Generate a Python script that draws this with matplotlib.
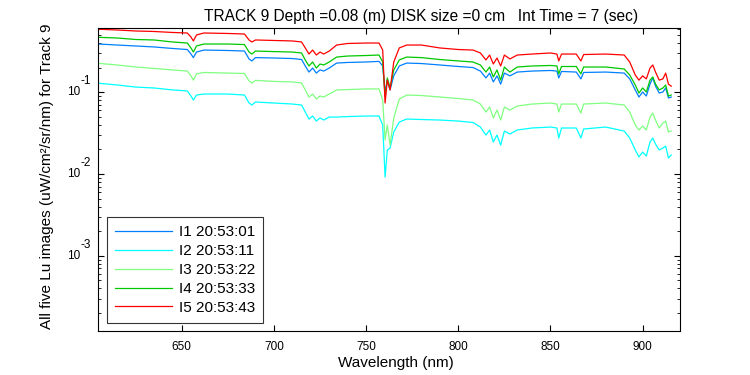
import matplotlib
matplotlib.use("Agg")
import matplotlib.pyplot as plt

plt.rcParams["font.family"] = ["Liberation Sans", "DejaVu Sans"]

# wavelength grid (nm)
wavelength = [605, 615, 625, 635, 645, 653, 655, 656.3, 658, 662, 675, 684, 686.5, 688, 690,
              700, 710, 715, 717, 719, 721, 723, 725, 727, 730, 734, 740, 750, 757, 759,
              760.3, 761.5, 763, 765, 768, 772, 780, 790, 800, 808, 812, 815, 817, 819, 821,
              823, 825, 828, 832, 840, 850, 853.5, 854.5, 856, 864, 866.5, 868, 880, 890,
              893, 896, 898, 900, 902, 904, 905.5, 907, 909, 911, 912.5, 914, 915.5]

i1 = [0.390, 0.379, 0.369, 0.359, 0.344, 0.334, 0.294, 0.266, 0.311, 0.329, 0.325, 0.320,
      0.256, 0.242, 0.266, 0.263, 0.259, 0.252, 0.210, 0.177, 0.198, 0.172, 0.188, 0.182,
      0.198, 0.228, 0.232, 0.235, 0.239, 0.210, 0.101, 0.141, 0.107, 0.159, 0.210, 0.228,
      0.225, 0.216, 0.207, 0.201, 0.182, 0.150, 0.172, 0.134, 0.159, 0.126, 0.172, 0.159,
      0.177, 0.182, 0.185, 0.182, 0.150, 0.180, 0.177, 0.146, 0.175, 0.177, 0.172, 0.146,
      0.107, 0.0876, 0.101, 0.0901, 0.126, 0.150, 0.119, 0.098, 0.101, 0.113, 0.0852, 0.0876]

i2 = [0.129, 0.123, 0.116, 0.113, 0.107, 0.104, 0.0901, 0.0805, 0.0927, 0.0953, 0.0953, 0.0927,
      0.0740, 0.0699, 0.0761, 0.0740, 0.0719, 0.0699, 0.0574, 0.0471, 0.0513, 0.0445, 0.0485,
      0.0458, 0.0498, 0.0498, 0.0505, 0.0513, 0.0513, 0.0398, 0.00917, 0.0197, 0.0208, 0.0327,
      0.0433, 0.0471, 0.0465, 0.0458, 0.0445, 0.0427, 0.0376, 0.0300, 0.0346, 0.0247, 0.0300,
      0.0226, 0.0336, 0.0309, 0.0346, 0.0366, 0.0376, 0.0366, 0.0276, 0.0366, 0.0366, 0.0276,
      0.0356, 0.0376, 0.0336, 0.0276, 0.0197, 0.0162, 0.0186, 0.0166, 0.0247, 0.0276, 0.0233,
      0.0197, 0.0208, 0.0220, 0.0157, 0.0171]

i3 = [0.226, 0.216, 0.204, 0.196, 0.188, 0.182, 0.159, 0.141, 0.168, 0.175, 0.172, 0.170,
      0.138, 0.130, 0.140, 0.136, 0.134, 0.130, 0.107, 0.0876, 0.0953, 0.0828, 0.0901, 0.0876,
      0.0953, 0.107, 0.108, 0.110, 0.110, 0.0805, 0.0261, 0.0398, 0.0226, 0.0485, 0.0828,
      0.0927, 0.0914, 0.0876, 0.0840, 0.0805, 0.0719, 0.0574, 0.0661, 0.0485, 0.0607, 0.0458,
      0.0661, 0.0607, 0.0680, 0.0719, 0.0740, 0.0719, 0.0574, 0.0719, 0.0719, 0.0558, 0.0719,
      0.0740, 0.0699, 0.0574, 0.0398, 0.0346, 0.0387, 0.0346, 0.0498, 0.0558, 0.0458, 0.0366,
      0.0421, 0.0445, 0.0327, 0.0336]

i4 = [0.471, 0.462, 0.443, 0.437, 0.413, 0.401, 0.349, 0.311, 0.369, 0.390, 0.390, 0.384,
      0.311, 0.294, 0.320, 0.315, 0.311, 0.303, 0.249, 0.210, 0.235, 0.198, 0.222, 0.216,
      0.235, 0.270, 0.278, 0.282, 0.286, 0.235, 0.0876, 0.150, 0.113, 0.188, 0.249, 0.270,
      0.266, 0.252, 0.242, 0.235, 0.216, 0.177, 0.204, 0.154, 0.188, 0.141, 0.204, 0.177,
      0.204, 0.210, 0.213, 0.210, 0.168, 0.207, 0.207, 0.168, 0.204, 0.204, 0.193, 0.163,
      0.123, 0.098, 0.113, 0.101, 0.141, 0.154, 0.126, 0.107, 0.113, 0.123, 0.0901, 0.0927]

i5 = [0.591, 0.579, 0.563, 0.555, 0.540, 0.532, 0.475, 0.425, 0.503, 0.532, 0.525, 0.517,
      0.437, 0.413, 0.437, 0.431, 0.425, 0.413, 0.349, 0.294, 0.329, 0.286, 0.311, 0.294,
      0.320, 0.379, 0.396, 0.401, 0.401, 0.329, 0.0740, 0.141, 0.107, 0.235, 0.349, 0.379,
      0.379, 0.349, 0.334, 0.329, 0.303, 0.249, 0.286, 0.222, 0.263, 0.210, 0.286, 0.256,
      0.286, 0.294, 0.303, 0.294, 0.242, 0.294, 0.294, 0.242, 0.290, 0.294, 0.286, 0.235,
      0.163, 0.141, 0.159, 0.146, 0.198, 0.216, 0.177, 0.141, 0.146, 0.172, 0.126, 0.119]

labels = ["I1 20:53:01", "I2 20:53:11", "I3 20:53:22", "I4 20:53:33", "I5 20:53:43"]
colors = ["#0080ff", "#00ffff", "#80ff80", "#00c800", "#ff0000"]
decades = [-1, -2, -3]


def main():
    fig = plt.figure(figsize=(7.5, 3.75), dpi=100)
    ax = fig.add_axes([0.131, 0.118, 0.775, 0.8065])

    for series, lab, col in zip([i1, i2, i3, i4, i5], labels, colors):
        ax.semilogy(wavelength, series, color=col, lw=0.9, label=lab)

    ax.set_xlim(604.7, 920)
    ax.set_ylim(1.21e-4, 0.607)
    ax.set_xticks([650, 700, 750, 800, 850, 900])
    ax.tick_params(which="both", direction="in", top=True, right=True, labelsize=8.5)
    ax.tick_params(which="major", length=4.3)
    ax.tick_params(which="minor", length=2)
    ax.tick_params(axis="x", pad=7.5)
    ax.tick_params(axis="y", labelleft=False)
    ax.minorticks_on()
    ax.xaxis.set_minor_locator(matplotlib.ticker.NullLocator())
    for sp in ax.spines.values():
        sp.set_linewidth(0.8)

    # old matlab style labels: exponent at full size, raised
    for k in decades:
        ax.annotate("10", xy=(0, 10.0 ** k), xycoords=("axes fraction", "data"),
                    xytext=(-13.2, 0), textcoords="offset points",
                    ha="right", va="center", fontsize=8.5)
        ax.annotate(str(k), xy=(0, 10.0 ** k), xycoords=("axes fraction", "data"),
                    xytext=(-12.9, 8.1), textcoords="offset points",
                    ha="left", va="center", fontsize=8.5)

    # title sits right of the axes centre in the original
    fig.text(0.561, 1 - 21 / 375, "TRACK 9 Depth =0.08 (m) DISK size =0 cm   Int Time = 7 (sec)",
             fontsize=11.2, ha="center", va="baseline")
    ax.set_xlabel("Wavelength (nm)", fontsize=11, labelpad=3)
    ax.xaxis.set_label_coords(0.5115, -0.083)
    ax.set_ylabel("All five Lu images (uW/cm\u00b2/sr/nm) for Track 9", fontsize=11)
    ax.yaxis.set_label_coords(-0.076, 0.51)

    leg = ax.legend(loc="lower left", bbox_to_anchor=(0.015, 0.025), fontsize=11,
                    frameon=True, fancybox=False, edgecolor="black", handlelength=3.7,
                    labelspacing=0.32, borderaxespad=0, handletextpad=0.45, borderpad=0.55)
    leg.get_frame().set_linewidth(0.8)

    fig.savefig("out.png", dpi=100)


if __name__ == "__main__":
    main()
